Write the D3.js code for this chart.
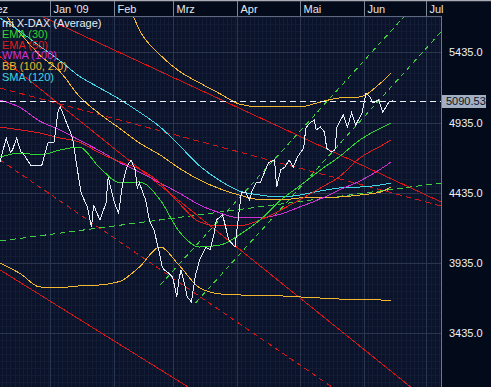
<!DOCTYPE html>
<html>
<head>
<meta charset="utf-8">
<script src="https://cdn.jsdelivr.net/npm/d3@7"></script>
<style>
  body { margin: 0; background: #030a1a; }
  svg { display: block; font-family: "Liberation Sans", Arial, sans-serif; }
</style>
</head>
<body>
<svg id="chart" width="491" height="387"></svg>
<script>
// ---- data ----
const monthLabels = ["Dez", "Jan '09", "Feb", "Mrz", "Apr", "Mai", "Jun", "Jul"];
const monthStarts = ["2008-12-01", "2009-01-01", "2009-02-01", "2009-03-01", "2009-04-01", "2009-05-01", "2009-06-01", "2009-07-01"];
const priceTicks = [3435, 3935, 4435, 4935, 5435];
const lastPrice = 5090.53;

const legendNames = ["mi X-DAX (Average)", "EMA (30)", "EMA (50)", "WMA (100)", "BB (100, 2.0)", "SMA (120)"];

// daily X-DAX closes
const xdax = [
  ["2008-12-08", 4654], ["2008-12-11", 4825], ["2008-12-13", 4725], ["2008-12-14", 4740], ["2008-12-16", 4825],
  ["2008-12-18", 4725], ["2008-12-19", 4718], ["2008-12-23", 4626], ["2008-12-28", 4626], ["2008-12-31", 4789],
  ["2009-01-03", 4797], ["2009-01-05", 5024], ["2009-01-06", 5046], ["2009-01-07", 5010], ["2009-01-09", 4932],
  ["2009-01-11", 4861], ["2009-01-12", 4811], ["2009-01-14", 4619], ["2009-01-16", 4434], ["2009-01-19", 4334],
  ["2009-01-21", 4192], ["2009-01-22", 4348], ["2009-01-25", 4242], ["2009-01-28", 4363], ["2009-01-29", 4548],
  ["2009-02-01", 4363], ["2009-02-03", 4291], ["2009-02-05", 4505], ["2009-02-07", 4619], ["2009-02-09", 4669],
  ["2009-02-11", 4597], ["2009-02-12", 4469], ["2009-02-13", 4505], ["2009-02-16", 4384], ["2009-02-18", 4228],
  ["2009-02-20", 4171], ["2009-02-22", 4049], ["2009-02-24", 3907], ["2009-02-25", 3886], ["2009-02-27", 3864],
  ["2009-03-01", 3836], ["2009-03-03", 3694], ["2009-03-04", 3815], ["2009-03-05", 3886], ["2009-03-07", 3765],
  ["2009-03-08", 3694], ["2009-03-10", 3658], ["2009-03-12", 3850], ["2009-03-14", 3957], ["2009-03-17", 4049],
  ["2009-03-19", 4028], ["2009-03-21", 4148], ["2009-03-22", 4242], ["2009-03-25", 4277], ["2009-03-26", 4220],
  ["2009-03-28", 4099], ["2009-03-31", 4049], ["2009-04-01", 4185], ["2009-04-03", 4434], ["2009-04-05", 4441],
  ["2009-04-07", 4384], ["2009-04-08", 4441], ["2009-04-10", 4505], ["2009-04-12", 4505], ["2009-04-14", 4576],
  ["2009-04-16", 4647], ["2009-04-19", 4669], ["2009-04-20", 4477], ["2009-04-22", 4598], ["2009-04-24", 4619],
  ["2009-04-26", 4669], ["2009-04-28", 4619], ["2009-04-30", 4690], ["2009-05-03", 4754], ["2009-05-04", 4896],
  ["2009-05-06", 4932], ["2009-05-08", 4953], ["2009-05-09", 4882], ["2009-05-11", 4903], ["2009-05-13", 4868],
  ["2009-05-14", 4754], ["2009-05-16", 4726], ["2009-05-18", 4740], ["2009-05-19", 4903], ["2009-05-22", 4988],
  ["2009-05-24", 4903], ["2009-05-26", 5003], ["2009-05-28", 4917], ["2009-05-31", 5003], ["2009-06-02", 5145],
  ["2009-06-04", 5117], ["2009-06-05", 5074], ["2009-06-08", 5096], ["2009-06-10", 5010], ["2009-06-13", 5081],
  ["2009-06-15", 5091]
];

// indicator samples
const indDates = ["2008-12-08", "2008-12-18", "2008-12-27", "2009-01-06", "2009-01-15", "2009-01-25", "2009-02-04",
  "2009-02-13", "2009-02-23", "2009-03-04", "2009-03-14", "2009-03-24", "2009-04-02", "2009-04-12", "2009-04-22",
  "2009-05-01", "2009-05-11", "2009-05-20", "2009-05-30", "2009-06-09", "2009-06-14"];
const ema30 = [4690, 4718, 4704, 4740, 4761, 4612, 4505, 4512, 4384, 4163, 4049, 4064, 4135, 4242, 4384, 4483, 4597, 4690, 4811, 4896, 4932];
const ema50 = [4903, 4882, 4861, 4825, 4797, 4718, 4654, 4604, 4505, 4362, 4227, 4199, 4199, 4242, 4313, 4384, 4469, 4548, 4683, 4768, 4811];
const wma100 = [5096, 5039, 4946, 4882, 4811, 4733, 4647, 4583, 4505, 4434, 4348, 4291, 4256, 4256, 4284, 4334, 4391, 4455, 4519, 4604, 4654];
const bbUpper = [null, null, null, null, null, null, 5950, 5594, 5416, 5302, 5217, 5138, 5067, 5046, 5046, 5046, 5081, 5110, 5117, 5217, 5288];
const bbMiddle = [5750, 5565, 5416, 5295, 5124, 4996, 4889, 4790, 4704, 4612, 4526, 4462, 4419, 4387, 4384, 4398, 4402, 4405, 4419, 4441, 4476];
const bbLower = [3935, 3857, 3765, 3761, 3772, 3779, 3807, 3907, 4049, 3921, 3758, 3715, 3708, 3704, 3701, 3694, 3686, 3679, 3676, 3672, 3665];
const sma120 = [5679, 5580, 5480, 5373, 5266, 5181, 5096, 5010, 4903, 4775, 4626, 4519, 4448, 4419, 4405, 4419, 4448, 4469, 4476, 4491, 4505];

// drawn trend lines (two anchor points each)
const trendRed = [["2008-12-08", 5829], ["2009-07-08", 4370]];
const trendRedDash = [["2008-12-08", 5181], ["2009-07-08", 4341]];
const chanRed = [["2008-12-08", 5404], ["2009-07-08", 2879]];
const chanRedDash = [["2008-12-08", 4669], ["2009-07-08", 2522]];
const chanRedLow = [["2008-12-08", 3886], ["2009-07-08", 1933]];
const trendGreen = [["2008-12-08", 4092], ["2009-07-08", 4505]];
const chanGreenUp = [["2009-02-23", 3779], ["2009-07-08", 5978]];
const chanGreenLow = [["2009-03-12", 3651], ["2009-07-08", 5580]];

// ---- setup ----
const W = 491, H = 387, plotR = 441, plotT = 16;
const parse = d3.timeParse("%Y-%m-%d");
const svg = d3.select("#chart");

const x = d3.scaleTime()
  .domain([parse("2008-12-08"), parse("2009-07-08")])
  .range([0, plotR]);
const y = d3.scaleLinear()
  .domain([3435, 5435])
  .range([333.3, 52.3]);

const colors = {
  price: "#e6ecf5",
  ema30: "#2fd62f",
  ema50: "#e01c1c",
  wma: "#d22fd2",
  bb: "#f2b630",
  sma: "#3fd6e6",
  trendRed: "#d41616",
  trendGreen: "#3fd03f"
};
const legendColors = [colors.price, colors.ema30, colors.ema50, colors.wma, colors.bb, colors.sma];

// backgrounds
svg.append("rect").attr("width", W).attr("height", H).attr("fill", "#030a1a");
svg.append("rect").attr("x", 0).attr("y", plotT).attr("width", plotR).attr("height", H - plotT).attr("fill", "#0a1329");

svg.append("clipPath").attr("id", "clip")
  .append("rect").attr("x", 0).attr("y", plotT + 1).attr("width", plotR).attr("height", H - plotT);

// ---- grid ----
const grid = svg.append("g").attr("clip-path", "url(#clip)").attr("shape-rendering", "crispEdges");
grid.selectAll(".vmin").data(x.ticks(d3.timeDay.every(2))).join("line")
  .attr("x1", d => Math.round(x(d)) + 0.5).attr("x2", d => Math.round(x(d)) + 0.5)
  .attr("y1", plotT).attr("y2", H)
  .attr("stroke", "#121d35").attr("stroke-width", 1);
grid.selectAll(".hmin").data(d3.range(3035, 5750, 50)).join("line")
  .attr("x1", 0).attr("x2", plotR)
  .attr("y1", d => Math.round(y(d)) + 0.5).attr("y2", d => Math.round(y(d)) + 0.5)
  .attr("stroke", "#121d35").attr("stroke-width", 1);
grid.selectAll(".vmaj").data(monthStarts.map(parse)).join("line")
  .attr("x1", d => Math.round(x(d)) + 0.5).attr("x2", d => Math.round(x(d)) + 0.5)
  .attr("y1", plotT).attr("y2", H)
  .attr("stroke", "#2a3550").attr("stroke-width", 1);
grid.selectAll(".hmaj").data(priceTicks).join("line")
  .attr("x1", 0).attr("x2", plotR)
  .attr("y1", d => Math.round(y(d)) + 0.5).attr("y2", d => Math.round(y(d)) + 0.5)
  .attr("stroke", "#2a3550").attr("stroke-width", 1);

// ---- lines (aliased 1px like the source terminal) ----
const plot = svg.append("g").attr("clip-path", "url(#clip)").attr("shape-rendering", "crispEdges");

const straight = d3.line().x(d => x(parse(d[0]))).y(d => y(d[1]));
function drawTrend(data, color, dash) {
  plot.append("path")
    .attr("d", straight(data))
    .attr("fill", "none")
    .attr("stroke", color)
    .attr("stroke-width", 1)
    .attr("stroke-dasharray", dash || null);
}
drawTrend(chanRedLow, colors.trendRed);
drawTrend(chanRedDash, colors.trendRed, "5,4");
drawTrend(chanRed, colors.trendRed);
drawTrend(trendRedDash, colors.trendRed, "6,4");
drawTrend(trendRed, colors.trendRed);
drawTrend(trendGreen, colors.trendGreen, "6,4");
drawTrend(chanGreenUp, colors.trendGreen, "5,4");
drawTrend(chanGreenLow, colors.trendGreen, "5,4");

const smooth = d3.line()
  .defined(d => d[1] != null)
  .x(d => x(d[0])).y(d => y(d[1]))
  .curve(d3.curveMonotoneX);
function drawInd(values, color) {
  const pts = indDates.map((d, i) => [parse(d), values[i]]);
  plot.append("path")
    .attr("d", smooth(pts))
    .attr("fill", "none")
    .attr("stroke", color)
    .attr("stroke-width", 1);
}
drawInd(bbLower, colors.bb);
drawInd(bbUpper, colors.bb);
drawInd(bbMiddle, colors.bb);
drawInd(sma120, colors.sma);
drawInd(wma100, colors.wma);
drawInd(ema50, colors.ema50);
drawInd(ema30, colors.ema30);

plot.append("path")
  .attr("d", d3.line().x(d => x(parse(d[0]))).y(d => y(d[1]))(xdax))
  .attr("fill", "none")
  .attr("stroke", colors.price)
  .attr("stroke-width", 1);

// last price dashed line
plot.append("line")
  .attr("x1", 0).attr("x2", plotR)
  .attr("y1", Math.round(y(lastPrice)) + 0.5).attr("y2", Math.round(y(lastPrice)) + 0.5)
  .attr("stroke", "#e8eef8").attr("stroke-width", 1)
  .attr("stroke-dasharray", "6,4");

// ---- legend ----
const legend = svg.append("g").attr("font-size", "11px");
legendNames.forEach((name, i) => {
  legend.append("text")
    .attr("x", 2)
    .attr("y", 27 + i * 10.8)
    .attr("fill", legendColors[i])
    .text(name);
});

// ---- header (months) ----
svg.append("rect").attr("x", 0).attr("y", 0).attr("width", W).attr("height", plotT).attr("fill", "#030a1a");
svg.append("line").attr("x1", 0).attr("x2", W).attr("y1", 0.5).attr("y2", 0.5)
  .attr("stroke", "#a9adb3").attr("stroke-width", 1.5);
svg.append("line").attr("x1", 0).attr("x2", plotR + 0.5).attr("y1", plotT + 0.5).attr("y2", plotT + 0.5)
  .attr("stroke", "#5d6880").attr("stroke-width", 1);

const header = svg.append("g");
monthStarts.forEach((m, i) => {
  const mx = Math.round(x(parse(m))) + 0.5;
  header.append("line")
    .attr("x1", mx).attr("x2", mx).attr("y1", 1).attr("y2", plotT)
    .attr("stroke", "#7d8799").attr("stroke-width", 1);
  header.append("text")
    .attr("x", mx + 3)
    .attr("y", 13)
    .attr("fill", "#e6e6e6")
    .attr("font-size", "11px")
    .text(monthLabels[i]);
});

// ---- right price axis ----
svg.append("line")
  .attr("x1", plotR + 0.5).attr("x2", plotR + 0.5).attr("y1", plotT).attr("y2", H)
  .attr("stroke", "#6c7790").attr("stroke-width", 1);

const axis = svg.append("g").attr("font-size", "11px");
priceTicks.forEach(v => {
  axis.append("text")
    .attr("x", 449)
    .attr("y", y(v) + 4)
    .attr("fill", "#f2f2f2")
    .text(d3.format(".1f")(v));
});

axis.append("rect")
  .attr("x", plotR + 1).attr("y", Math.round(y(lastPrice)) - 6)
  .attr("width", 44).attr("height", 13)
  .attr("fill", "#a3afc2");
axis.append("text")
  .attr("x", plotR + 5)
  .attr("y", Math.round(y(lastPrice)) + 4)
  .attr("fill", "#0c1426")
  .text(d3.format(".2f")(lastPrice));
</script>
</body>
</html>
